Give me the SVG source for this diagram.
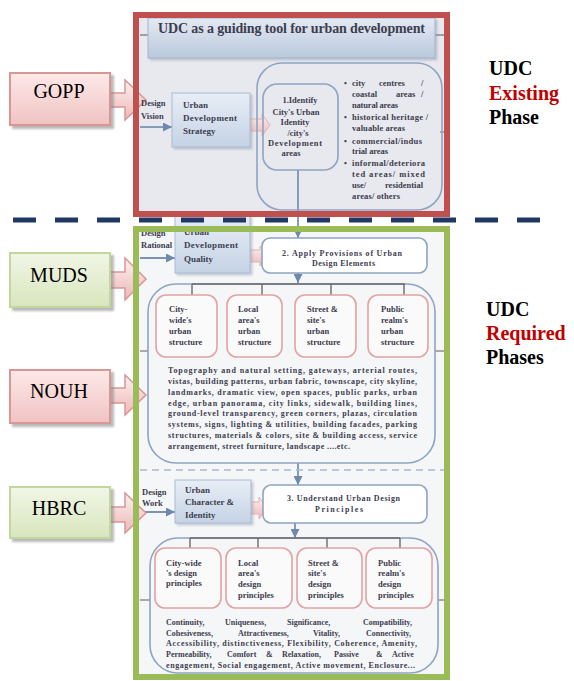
<svg xmlns="http://www.w3.org/2000/svg" width="574" height="681" viewBox="0 0 574 681">
  <defs>
    <style>
      .t { font-family: "Liberation Serif", "Times New Roman", serif; font-weight: bold; fill: #3d3d4f; }
      .s8 { font-size: 8px; }
      .s85 { font-size: 8.5px; }
      .s9 { font-size: 9px; }
      .big { font-family: "Liberation Serif", "Times New Roman", serif; font-size: 20px; fill: #000; }
      .phase { font-family: "Liberation Serif", "Times New Roman", serif; font-size: 20px; font-weight: bold; fill: #000; }
      .red { fill: #c00000; }
      .blueBox { fill: url(#blueBox); stroke: #a9bbd2; stroke-width: 1; }
      .round { fill: none; stroke: #8ea4c2; stroke-width: 1.6; }
      .roundW { fill: #ffffff; stroke: #8ea4c2; stroke-width: 1.6; }
      .pinkBox { fill: #fbfafa; stroke: #e2a3a3; stroke-width: 1.6; }
      .conn { fill: none; stroke: #7d92b2; stroke-width: 1.8; }
      .bus { fill: none; stroke: #6b6b6b; stroke-width: 1.4; }
      .pinkArrow { fill: url(#pinkArrow); stroke: #e3b2b1; stroke-width: 1; }
      .sideArrow { fill: url(#pinkArrow); stroke: #d99694; stroke-width: 1.5; }
      .nodePink { fill: url(#pinkNode); stroke: #d99694; stroke-width: 2; }
      .nodeGreen { fill: url(#greenNode); stroke: #c3d69b; stroke-width: 2; }
    </style>
    <linearGradient id="blueBox" x1="0" y1="0" x2="0" y2="1">
      <stop offset="0" stop-color="#e8eef6"/>
      <stop offset="1" stop-color="#c5d3e5"/>
    </linearGradient>
    <linearGradient id="titleGrad" x1="0" y1="0" x2="0" y2="1">
      <stop offset="0" stop-color="#e4eaf3"/>
      <stop offset="1" stop-color="#b9c8dc"/>
    </linearGradient>
    <linearGradient id="pinkArrow" x1="0" y1="0" x2="0" y2="1">
      <stop offset="0" stop-color="#fdf0f0"/>
      <stop offset="1" stop-color="#ebb8b7"/>
    </linearGradient>
    <linearGradient id="pinkNode" x1="0" y1="0" x2="0" y2="1">
      <stop offset="0" stop-color="#fde9e9"/>
      <stop offset="1" stop-color="#f0c3c2"/>
    </linearGradient>
    <linearGradient id="greenNode" x1="0" y1="0" x2="0" y2="1">
      <stop offset="0" stop-color="#f1f6e6"/>
      <stop offset="1" stop-color="#d8e6be"/>
    </linearGradient>
    <filter id="shadow" x="-10%" y="-10%" width="130%" height="140%">
      <feDropShadow dx="3" dy="3" stdDeviation="0.8" flood-color="#7f7f7f" flood-opacity="0.55"/>
    </filter>
    <filter id="softShadow" x="-10%" y="-10%" width="130%" height="140%">
      <feDropShadow dx="2" dy="2" stdDeviation="1.2" flood-color="#8a96a8" flood-opacity="0.45"/>
    </filter>
    <marker id="arrow" viewBox="0 0 10 10" refX="10" refY="5" markerWidth="9" markerHeight="9" markerUnits="userSpaceOnUse" orient="auto">
      <path d="M0,0 L10,5 L0,10 z" fill="#6f88ab"/>
    </marker>
  </defs>

  <!-- panel backgrounds -->
  <g id="panel-backgrounds">
    <rect x="136" y="15" width="311" height="199" fill="#e8e9ee"/>
    <rect x="136" y="229" width="311" height="448" fill="#f5f6f8"/>
  </g>

  <!-- connectors -->
  <g id="connectors">
    <!-- title side ticks -->
    <line x1="140" y1="35" x2="445" y2="35" stroke="#555" stroke-width="1"/>
    <!-- side ticks of the rounded groups -->
    <line x1="440" y1="132" x2="446" y2="132" stroke="#666" stroke-width="1"/>
    <line x1="140" y1="351" x2="148" y2="351" stroke="#777" stroke-width="1.2"/>
    <line x1="435" y1="351" x2="445" y2="351" stroke="#777" stroke-width="1.2"/>
    <line x1="140" y1="600" x2="150" y2="600" stroke="#777" stroke-width="1.2"/>
    <line x1="438" y1="600" x2="447" y2="600" stroke="#777" stroke-width="1.2"/>
    <!-- vertical flow -->
    <path class="conn" d="M298 170 V238" marker-end="url(#arrow)"/>
    <path class="conn" d="M298 273 V283" marker-end="url(#arrow)"/>
    <path class="conn" d="M298 463 V485" marker-end="url(#arrow)"/>
    <path class="conn" d="M295 523 V538" marker-end="url(#arrow)"/>
    <!-- design inputs -->
    <path class="conn" d="M140 127 H172" marker-end="url(#arrow)"/>
    <path class="conn" d="M140 258 H175" marker-end="url(#arrow)"/>
    <path class="conn" d="M140 512 H175" marker-end="url(#arrow)"/>
    <!-- box to box block arrows -->
    <path class="pinkArrow" d="M247 119 H262 V114 L270 125 L262 136 V131 H247 Z"/>
    <path class="pinkArrow" d="M245 250 H260 V246 L268 256 L260 266 V262 H245 Z"/>
    <path class="pinkArrow" d="M245 502 H259 V497 L267 508 L259 519 V514 H245 Z"/>
    <!-- agency block arrows -->
    <path class="sideArrow" d="M107 93 H125 V80 L146 100 L125 120 V107 H107 Z"/>
    <path class="sideArrow" d="M107 272 H125 V258 L146 279 L125 300 V288 H107 Z"/>
    <path class="sideArrow" d="M107 388 H125 V375 L146 395 L125 415 V403 H107 Z"/>
    <path class="sideArrow" d="M107 507 H125 V493 L146 513 L125 533 V522 H107 Z"/>
  </g>

  <!-- title -->
  <g id="title">
    <rect x="148" y="18" width="287" height="40" fill="url(#titleGrad)" stroke="#a3b5cd" stroke-width="1" filter="url(#softShadow)"/>
    <text class="t" x="158" y="33" font-size="14" fill="#3a3a55" textLength="267" lengthAdjust="spacing">UDC as a guiding tool for urban development</text>
  </g>

  <!-- phase 1: identify -->
  <g id="design-vision">
    <text class="t s85" x="141" y="106">Design</text>
    <text class="t s85" x="141" y="119">Vision</text>
  </g>
  <g id="urban-development-strategy">
    <rect class="blueBox" x="172" y="93" width="78" height="54" filter="url(#softShadow)"/>
    <text class="t s9" x="183" y="107.5">Urban</text>
    <text class="t s9" x="183" y="120.5" textLength="54" lengthAdjust="spacing">Development</text>
    <text class="t s9" x="183" y="133.5">Strategy</text>
  </g>
  <g id="identify-group">
    <rect class="round" x="257" y="63" width="185" height="147" rx="25"/>
  </g>
  <g id="identify">
    <rect class="round" x="263" y="84" width="75" height="86" rx="14"/>
    <g text-anchor="middle">
      <text class="t s85" x="300" y="102.5">1.Identify</text>
      <text class="t s85" x="296" y="114.5">City's Urban</text>
      <text class="t s85" x="295" y="124.5">Identity</text>
      <text class="t s85" x="298" y="135.5">/city's</text>
      <text class="t s85" x="295" y="145.5" textLength="54" lengthAdjust="spacing">Development</text>
      <text class="t s85" x="291" y="155.5">areas</text>
    </g>
  </g>
  <g id="development-areas">
    <text class="t s8" x="344" y="85.5">•</text>
    <text class="t s8" x="344" y="119.5">•</text>
    <text class="t s8" x="344" y="143.5">•</text>
    <text class="t s8" x="344" y="165.5">•</text>
    <text class="t s85" y="85.5"><tspan x="352">city</tspan><tspan x="379">centres</tspan><tspan x="421">/</tspan></text>
    <text class="t s85" y="96.5"><tspan x="352">coastal</tspan><tspan x="396">areas</tspan><tspan x="421">/</tspan></text>
    <text class="t s85" x="352" y="107.5" textLength="46" lengthAdjust="spacing">natural areas</text>
    <text class="t s85" x="352" y="119.5" textLength="76" lengthAdjust="spacing">historical heritage /</text>
    <text class="t s85" x="352" y="130.5" textLength="53" lengthAdjust="spacing">valuable areas</text>
    <text class="t s85" x="352" y="143.5" textLength="70" lengthAdjust="spacing">commercial/indus</text>
    <text class="t s85" x="352" y="153.5" textLength="36" lengthAdjust="spacing">trial areas</text>
    <text class="t s85" x="352" y="165.5" textLength="73" lengthAdjust="spacing">informal/deteriora</text>
    <text class="t s85" x="352" y="176.5" textLength="73" lengthAdjust="spacing">ted areas/ mixed</text>
    <text class="t s85" y="187.5"><tspan x="352">use/</tspan><tspan x="385">residential</tspan></text>
    <text class="t s85" x="352" y="198.5" textLength="48" lengthAdjust="spacing">areas/ others</text>
  </g>

  <!-- phase 2: apply -->
  <g id="design-rational">
    <text class="t s85" x="141" y="236">Design</text>
    <text class="t s85" x="141" y="248">Rational</text>
  </g>
  <g id="urban-development-quality">
    <rect class="blueBox" x="175" y="214" width="75" height="59" filter="url(#softShadow)"/>
    <text class="t s9" x="184" y="235">Urban</text>
    <text class="t s9" x="184" y="248" textLength="54" lengthAdjust="spacing">Development</text>
    <text class="t s9" x="184" y="261.5">Quality</text>
  </g>
  <g id="apply-provisions">
    <rect class="roundW" x="262" y="238" width="165" height="35" rx="8"/>
    <text class="t s8" x="282" y="255.5" textLength="120" lengthAdjust="spacing">2. Apply Provisions of Urban</text>
    <text class="t s8" x="312" y="265.5" textLength="63" lengthAdjust="spacing">Design Elements</text>
  </g>
  <g id="design-elements">
    <rect class="round" x="148" y="284" width="287" height="179" rx="28"/>
    <path class="bus" d="M192 284 H405 M192 284 V295 M262 284 V295 M331 284 V295 M404 284 V295"/>
  </g>
  <g id="city-wide-structure">
    <rect class="pinkBox" x="156" y="295" width="61" height="62" rx="10"/>
    <text class="t s85" x="169" y="311.5">City-</text>
    <text class="t s85" x="169" y="322.5">wide's</text>
    <text class="t s85" x="169" y="333.5">urban</text>
    <text class="t s85" x="169" y="344.5">structure</text>
  </g>
  <g id="local-area-structure">
    <rect class="pinkBox" x="227" y="295" width="55" height="62" rx="10"/>
    <text class="t s85" x="238" y="311.5">Local</text>
    <text class="t s85" x="238" y="322.5">area's</text>
    <text class="t s85" x="238" y="333.5">urban</text>
    <text class="t s85" x="238" y="344.5">structure</text>
  </g>
  <g id="street-site-structure">
    <rect class="pinkBox" x="295" y="295" width="61" height="62" rx="10"/>
    <text class="t s85" x="307" y="311.5">Street &amp;</text>
    <text class="t s85" x="307" y="322.5">site's</text>
    <text class="t s85" x="307" y="333.5">urban</text>
    <text class="t s85" x="307" y="344.5">structure</text>
  </g>
  <g id="public-realm-structure">
    <rect class="pinkBox" x="368" y="295" width="60" height="62" rx="10"/>
    <text class="t s85" x="381" y="311.5">Public</text>
    <text class="t s85" x="381" y="322.5">realm's</text>
    <text class="t s85" x="381" y="333.5">urban</text>
    <text class="t s85" x="381" y="344.5">structure</text>
  </g>
  <g id="elements-list">
    <text class="t s8" x="168" y="372.5" textLength="249" lengthAdjust="spacing">Topography and natural setting, gateways, arterial routes,</text>
    <text class="t s8" x="168" y="383.5" textLength="249" lengthAdjust="spacing">vistas, building patterns, urban fabric, townscape, city skyline,</text>
    <text class="t s8" x="168" y="394.5" textLength="249" lengthAdjust="spacing">landmarks, dramatic view, open spaces, public parks, urban</text>
    <text class="t s8" x="168" y="405.5" textLength="249" lengthAdjust="spacing">edge, urban panorama, city links, sidewalk, building lines,</text>
    <text class="t s8" x="168" y="416" textLength="249" lengthAdjust="spacing">ground-level transparency, green corners, plazas, circulation</text>
    <text class="t s8" x="168" y="427" textLength="249" lengthAdjust="spacing">systems, signs, lighting &amp; utilities, building facades, parking</text>
    <text class="t s8" x="168" y="438" textLength="249" lengthAdjust="spacing">structures, materials &amp; colors, site &amp; building access, service</text>
    <text class="t s8" x="168" y="449" textLength="182" lengthAdjust="spacing">arrangement, street furniture, landscape ....etc.</text>
  </g>

  <!-- step divider inside the required phases -->
  <line x1="140" y1="470" x2="445" y2="470" stroke="#a9b9cf" stroke-width="1.5" stroke-dasharray="7 5"/>

  <!-- phase 3: understand -->
  <g id="design-work">
    <text class="t s85" x="142" y="494.5">Design</text>
    <text class="t s85" x="142" y="505.5">Work</text>
  </g>
  <g id="urban-character-identity">
    <rect class="blueBox" x="175" y="480" width="76" height="43" filter="url(#softShadow)"/>
    <text class="t s9" x="185" y="492.5">Urban</text>
    <text class="t s9" x="185" y="505">Character &amp;</text>
    <text class="t s9" x="185" y="517.5">Identity</text>
  </g>
  <g id="understand-principles">
    <rect class="roundW" x="263" y="485" width="164" height="38" rx="8"/>
    <text class="t s8" x="287" y="501" textLength="113" lengthAdjust="spacing">3. Understand Urban Design</text>
    <text class="t s8" x="315" y="511.5" textLength="48" lengthAdjust="spacing">Principles</text>
  </g>
  <g id="design-principles">
    <rect class="round" x="150" y="538" width="288" height="135" rx="28"/>
    <path class="bus" d="M190 538 H400 M190 538 V548 M258 538 V548 M327 538 V548 M400 538 V548"/>
  </g>
  <g id="city-wide-principles">
    <rect class="pinkBox" x="155" y="548" width="66" height="60" rx="10"/>
    <text class="t s85" x="166" y="565.5">City-wide</text>
    <text class="t s85" x="166" y="576">'s design</text>
    <text class="t s85" x="166" y="586">principles</text>
  </g>
  <g id="local-area-principles">
    <rect class="pinkBox" x="226" y="548" width="66" height="60" rx="10"/>
    <text class="t s85" x="238" y="565.5">Local</text>
    <text class="t s85" x="238" y="576">area's</text>
    <text class="t s85" x="238" y="587">design</text>
    <text class="t s85" x="238" y="597.5">principles</text>
  </g>
  <g id="street-site-principles">
    <rect class="pinkBox" x="297" y="548" width="65" height="60" rx="10"/>
    <text class="t s85" x="308" y="565.5">Street &amp;</text>
    <text class="t s85" x="308" y="576">site's</text>
    <text class="t s85" x="308" y="587">design</text>
    <text class="t s85" x="308" y="597.5">principles</text>
  </g>
  <g id="public-realm-principles">
    <rect class="pinkBox" x="366" y="548" width="66" height="60" rx="10"/>
    <text class="t s85" x="378" y="565.5">Public</text>
    <text class="t s85" x="378" y="576">realm's</text>
    <text class="t s85" x="378" y="587">design</text>
    <text class="t s85" x="378" y="597.5">principles</text>
  </g>
  <g id="principles-list">
    <text class="t s8" y="624.5"><tspan x="166">Continuity,</tspan><tspan x="225">Uniqueness,</tspan><tspan x="287">Significance,</tspan><tspan x="363">Compatibility,</tspan></text>
    <text class="t s8" y="635.5"><tspan x="166">Cohesiveness,</tspan><tspan x="238">Attractiveness,</tspan><tspan x="313">Vitality,</tspan><tspan x="366">Connectivity,</tspan></text>
    <text class="t s8" x="166" y="646" textLength="251" lengthAdjust="spacing">Accessibility, distinctiveness, Flexibility, Coherence, Amenity,</text>
    <text class="t s8" y="657"><tspan x="166">Permeability,</tspan><tspan x="227">Comfort</tspan><tspan x="266">&amp;</tspan><tspan x="282">Relaxation,</tspan><tspan x="334">Passive</tspan><tspan x="376">&amp;</tspan><tspan x="392">Active</tspan></text>
    <text class="t s8" x="166" y="668" textLength="249" lengthAdjust="spacing">engagement, Social engagement, Active movement, Enclosure...</text>
  </g>

  <!-- agencies -->
  <g id="gopp">
    <rect class="nodePink" x="10" y="73" width="100" height="52" filter="url(#shadow)"/>
    <text class="big" x="59" y="98" text-anchor="middle">GOPP</text>
  </g>
  <g id="muds">
    <rect class="nodeGreen" x="10" y="253" width="100" height="54" filter="url(#shadow)"/>
    <text class="big" x="59" y="282" text-anchor="middle">MUDS</text>
  </g>
  <g id="nouh">
    <rect class="nodePink" x="10" y="370" width="100" height="53" filter="url(#shadow)"/>
    <text class="big" x="59" y="398" text-anchor="middle">NOUH</text>
  </g>
  <g id="hbrc">
    <rect class="nodeGreen" x="10" y="487" width="100" height="51" filter="url(#shadow)"/>
    <text class="big" x="59" y="515" text-anchor="middle">HBRC</text>
  </g>

  <!-- phase frames -->
  <g id="existing-phase-frame">
    <rect x="136" y="15" width="311" height="199" fill="none" stroke="#c0504d" stroke-width="6"/>
  </g>
  <g id="required-phases-frame">
    <rect x="136" y="229" width="311" height="448" fill="none" stroke="#9bbb59" stroke-width="6"/>
  </g>
  <line id="phase-divider" x1="13" y1="220" x2="541" y2="220" stroke="#1f3864" stroke-width="5" stroke-dasharray="23 19"/>

  <!-- phase labels -->
  <g id="existing-label">
    <text class="phase" x="489" y="75">UDC</text>
    <text class="phase red" x="489" y="100">Existing</text>
    <text class="phase" x="489" y="124">Phase</text>
  </g>
  <g id="required-label">
    <text class="phase" x="486" y="316">UDC</text>
    <text class="phase red" x="486" y="340">Required</text>
    <text class="phase" x="486" y="364">Phases</text>
  </g>
</svg>
